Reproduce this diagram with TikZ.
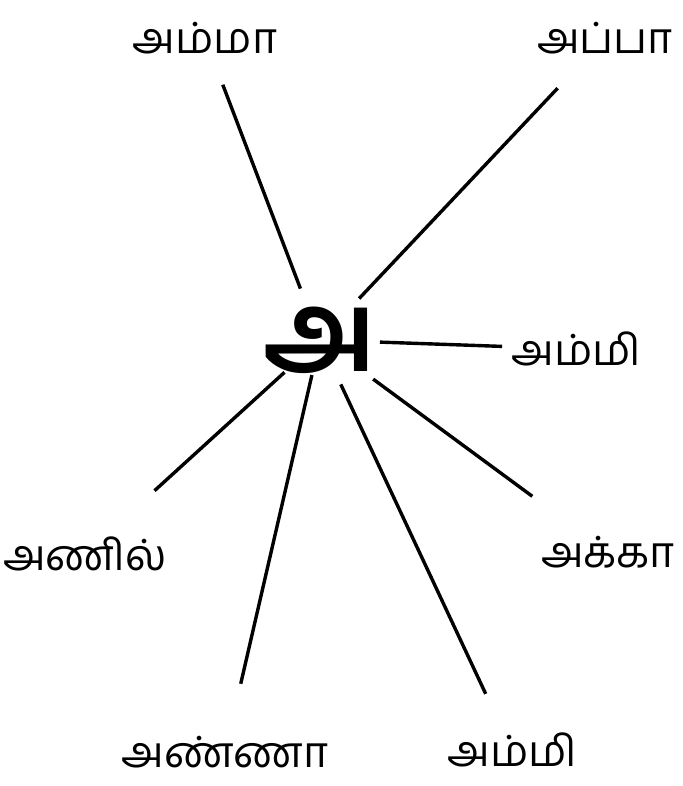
\documentclass[tikz,border=0pt]{standalone}
\usepackage{fontspec}
\newfontfamily\tamil[Script=Tamil]{Hind Madurai}
\usetikzlibrary{calc}

\begin{document}
\begin{tikzpicture}[x=1pt,y=-1pt,
  word/.style={inner sep=0pt,font=\tamil\fontsize{43}{52}\selectfont},
  hubletter/.style={inner sep=0pt,font=\tamil\bfseries\fontsize{112}{130}\selectfont},
  spoke/.style={line width=3.4pt,color=black}]
  \fill[white] (0,0) rectangle (682,786);
  \useasboundingbox (0,0) rectangle (682,786);
  % centre letter and the words round it
  \node[hubletter] (hub) at (320,340) {அ};
  \node[word] (amma)  at (205,38)  {அம்மா};
  \node[word] (appa)  at (605,38)  {அப்பா};
  \node[word] (ammiR) at (576,349) {அம்மி};
  \node[word] (akka)  at (608,552) {அக்கா};
  \node[word] (ammiB) at (512,750) {அம்மி};
  \node[word] (anna)  at (225,752) {அண்ணா};
  \node[word] (anil)  at (85,554)  {அணில்};
  % spokes
  \draw[spoke,shorten <=55pt,shorten >=50pt] (hub.center)--(amma.center);
  \draw[spoke,shorten <=57pt,shorten >=69pt] (hub.center)--(appa.center);
  \draw[spoke,shorten <=60pt,shorten >=74pt] (hub.center)--(ammiR.center);
  \draw[spoke,shorten <=66pt,shorten >=94pt] (hub.center)--(akka.center);
  \draw[spoke,shorten <=49pt,shorten >=62pt] (hub.center)--(ammiB.center);
  \draw[spoke,shorten <=36pt,shorten >=70pt] (hub.center)--(anna.center);
  \draw[spoke,shorten <=48pt,shorten >=94pt] (hub.center)--(anil.center);
\end{tikzpicture}
\end{document}
